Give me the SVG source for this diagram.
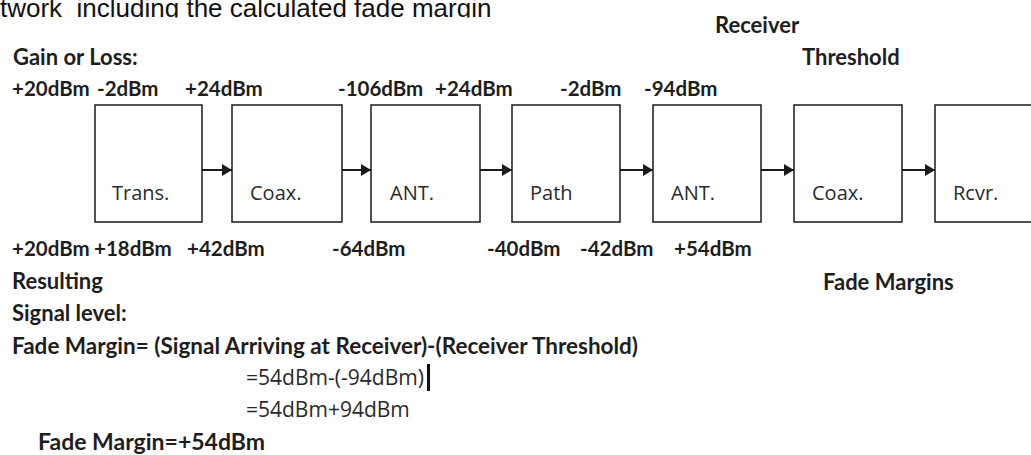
<svg xmlns="http://www.w3.org/2000/svg" width="1031" height="455" viewBox="0 0 1031 455">
<style>
.b{font-family:Lato,"Liberation Sans",sans-serif;font-weight:bold;font-size:22px;fill:#1e1e1e}
.n{font-family:Lato,"Liberation Sans",sans-serif;font-weight:bold;font-size:20.5px;fill:#1e1e1e}
.r{font-family:"Open Sans","Liberation Sans",sans-serif;font-size:20px;fill:#2a2a2a}
.box{fill:#fff;stroke:#1a1a1a;stroke-width:1.5}
.arr{stroke:#1a1a1a;stroke-width:2;fill:none;marker-end:url(#ah)}
.top{font-family:"Liberation Sans",Arial,sans-serif;font-size:26px;fill:#111}
</style>
<defs>
<marker id="ah" markerUnits="userSpaceOnUse" markerWidth="11" markerHeight="13" refX="10" refY="6" orient="auto"><path d="M0,0 L10,6 L0,12 z" fill="#1a1a1a"/></marker>
<clipPath id="clipTop"><rect x="0" y="0" width="520" height="17.5"/></clipPath>
</defs>
<rect width="1031" height="455" fill="#fff"/>
<g id="caption" clip-path="url(#clipTop)"><text class="top" x="0" y="17" xml:space="preserve">twork  including the calculated fade margin</text></g>
<g id="labels-top">
<text class="b" x="13" y="65">Gain or Loss:</text>
<text class="b" x="715" y="33">Receiver</text>
<text class="b" x="802" y="65">Threshold</text>
<text class="n" x="12" y="96">+20dBm</text>
<text class="n" x="97" y="96">-2dBm</text>
<text class="n" x="185" y="96">+24dBm</text>
<text class="n" x="338" y="96">-106dBm</text>
<text class="n" x="435" y="96">+24dBm</text>
<text class="n" x="560" y="96">-2dBm</text>
<text class="n" x="644" y="96">-94dBm</text>
</g>
<g id="n-trans"><rect class="box" x="95" y="105" width="107" height="117"/><text class="r" x="112" y="200">Trans.</text></g>
<g id="n-coax1"><rect class="box" x="232" y="105" width="110" height="117"/><text class="r" x="250" y="200">Coax.</text></g>
<g id="n-ant1"><rect class="box" x="371" y="105" width="109" height="117"/><text class="r" x="390" y="200">ANT.</text></g>
<g id="n-path"><rect class="box" x="512" y="105" width="108" height="117"/><text class="r" x="530" y="200">Path</text></g>
<g id="n-ant2"><rect class="box" x="653" y="105" width="108" height="117"/><text class="r" x="671" y="200">ANT.</text></g>
<g id="n-coax2"><rect class="box" x="794" y="105" width="108" height="117"/><text class="r" x="812" y="200">Coax.</text></g>
<g id="n-rcvr"><rect class="box" x="935" y="105" width="110" height="117"/><text class="r" x="953" y="200">Rcvr.</text></g>
<g id="connectors">
<line class="arr" x1="202" y1="170" x2="232" y2="170"/>
<line class="arr" x1="342" y1="170" x2="371" y2="170"/>
<line class="arr" x1="480" y1="170" x2="512" y2="170"/>
<line class="arr" x1="620" y1="170" x2="653" y2="170"/>
<line class="arr" x1="761" y1="170" x2="794" y2="170"/>
<line class="arr" x1="902" y1="170" x2="935" y2="170"/>
</g>
<g id="labels-bottom">
<text class="n" x="12" y="256">+20dBm</text>
<text class="n" x="94" y="256">+18dBm</text>
<text class="n" x="187" y="256">+42dBm</text>
<text class="n" x="332" y="256">-64dBm</text>
<text class="n" x="487" y="256">-40dBm</text>
<text class="n" x="580" y="256">-42dBm</text>
<text class="n" x="674" y="256">+54dBm</text>
<text class="b" x="12" y="289">Resulting</text>
<text class="b" x="823" y="290">Fade Margins</text>
<text class="b" x="12" y="321">Signal level:</text>
<text class="b" x="12" y="354" textLength="626" lengthAdjust="spacingAndGlyphs">Fade Margin= (Signal Arriving at Receiver)-(Receiver Threshold)</text>
<text class="r" x="246" y="385" style="font-size:21px" textLength="178" lengthAdjust="spacingAndGlyphs">=54dBm-(-94dBm)</text>
<rect x="427" y="364" width="3" height="27" fill="#111"/>
<text class="r" x="246" y="417" style="font-size:21px">=54dBm+94dBm</text>
<text class="b" x="38" y="450" style="font-size:23px">Fade Margin=+54dBm</text>
</g>
</svg>
